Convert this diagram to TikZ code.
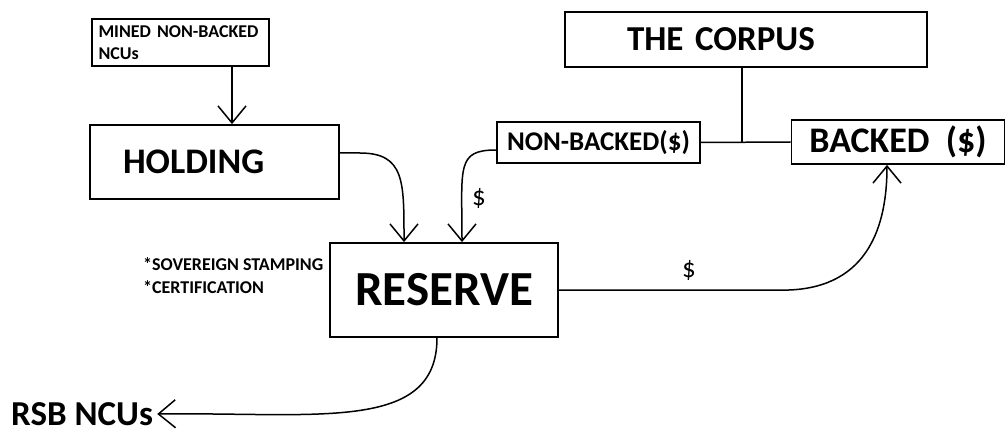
\documentclass[tikz,border=0pt]{standalone}
\usepackage{fontspec}
\setmainfont{Carlito}
\usetikzlibrary{arrows.meta}
\tikzset{
  box/.style={draw, line width=1.8pt, inner sep=0pt},
  arr/.style={line width=1.5pt, -{Straight Barb[length=17pt,width=28pt,line width=1.5pt]}},
  conn/.style={line width=1.5pt},
  txt/.style={inner sep=0pt, font=\bfseries},
}
\newcommand{\fs}[1]{\fontsize{#1}{#1}\selectfont}
\begin{document}
\begin{tikzpicture}[x=1pt,y=-1pt]
        \useasboundingbox (0,0) rectangle (1005,433);
        \node[box, minimum width=177, minimum height=47, text width=164, align=left,
              font=\bfseries\fontsize{18}{22}\selectfont] (mined) at (180.5,42.5) {MINED NON-BACKED\\NCUs};
        \node[box, minimum width=249, minimum height=74, text width=183, align=left,
              font=\bfseries\fs{36}] (holding) at (214.5,162) {HOLDING};
        \node[box, minimum width=362, minimum height=55, text width=238, align=left,
              font=\bfseries\fs{35}] (corpus) at (746,39.5) {THE CORPUS};
        \node[box, minimum width=203, minimum height=41, font=\bfseries\fs{27}] (nonbacked) at (598.5,142.5) {NON-BACKED(\$)};
        \node[box, minimum width=213, minimum height=44, font=\bfseries\fs{36}] (backed) at (898,142) {BACKED~~(\$)};
        \node[box, minimum width=228, minimum height=94, font=\bfseries\fs{49}] (reserve) at (444,290) {RESERVE\hspace{8pt}};
        \node[txt, anchor=west, font=\bfseries\fs{35}] (rsb) at (11,414) {RSB NCUs};
        \node[txt, anchor=north west, align=left, font=\bfseries\fontsize{18}{23}\selectfont] (notes) at (143,257)
             {*SOVEREIGN STAMPING\\*CERTIFICATION};
        \node[txt, font=\fs{27}] (dollarA) at (479,198) {\$};
        \node[txt, font=\fs{27}] (dollarB) at (689,270) {\$};

        \draw[arr] ([xshift=51.5pt]mined.south) -- ([xshift=51.5pt]mined.south |- holding.north);
        \draw[conn] ([xshift=-4pt]corpus.south) -- ([xshift=-4pt]corpus.south |- nonbacked.east);
        \draw[conn] (nonbacked.east) -- (backed.west);
        \draw[arr] ([yshift=9pt]holding.east) -- ++(20,0) .. controls +(45,0) and +(0,-60) .. ([xshift=-40pt]reserve.north);
        \draw[arr] ([yshift=-7.5pt]nonbacked.west) .. controls +(-40,0) and +(0,-75) .. ([xshift=18pt]reserve.north);
        \draw[arr] (reserve.east) -- ++(230,0) .. controls +(80,-3) and +(0,60) .. ([xshift=-11pt]backed.south);
        \draw[arr] ([xshift=-7pt]reserve.south) .. controls +(0,95) and +(160,-2) .. ([xshift=4pt]rsb.east);
    \end{tikzpicture}
\end{document}
